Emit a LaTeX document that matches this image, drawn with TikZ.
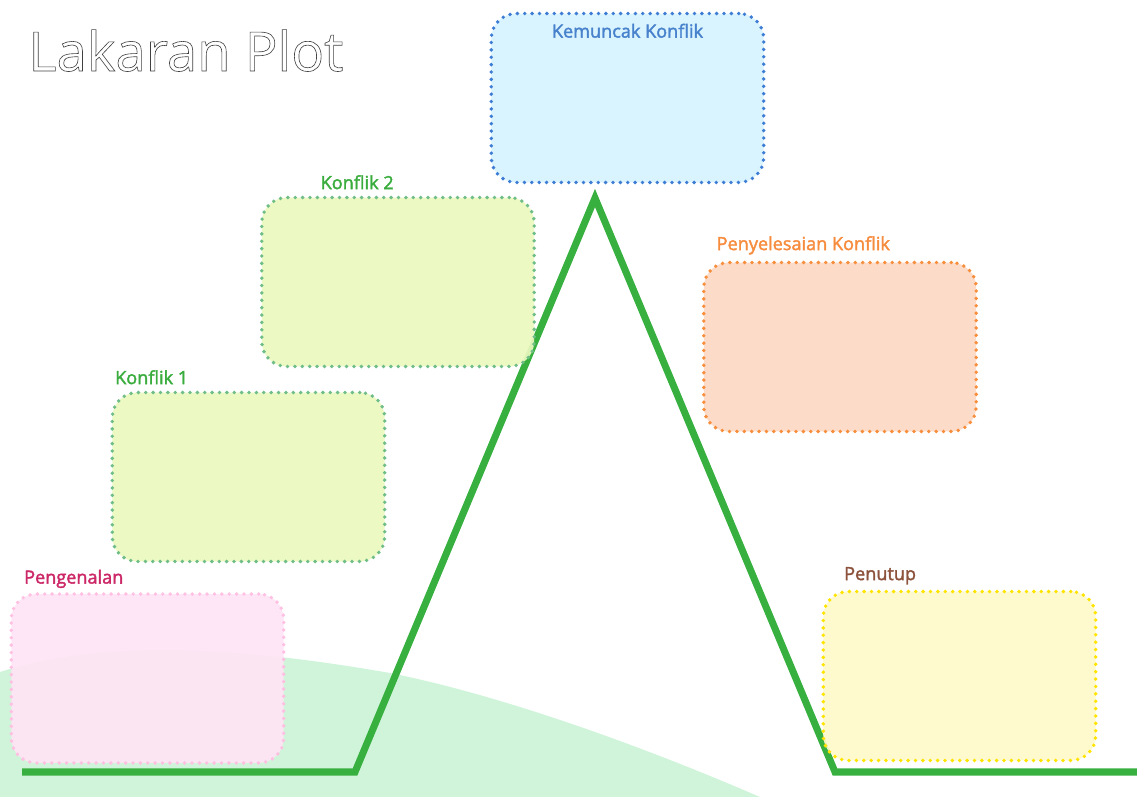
\documentclass[tikz,border=0pt]{standalone}
\usepackage{fontspec}
\setmainfont{Open Sans}
\newfontfamily\lblfont[FakeBold=2]{Open Sans}
\usepackage{xcolor}
\usepackage{tikz}
\usetikzlibrary{positioning}

\definecolor{plotgreen}{RGB}{56,176,64}
\definecolor{hillgreen}{RGB}{208,244,218}
\definecolor{kmtext}{RGB}{72,130,204}
\definecolor{kmdraw}{RGB}{62,125,212}
\definecolor{kmfill}{RGB}{214,243,255}
\definecolor{kftext}{RGB}{58,172,62}
\definecolor{kfdraw}{RGB}{112,190,135}
\definecolor{kffill}{RGB}{234,248,190}
\definecolor{pgtext}{RGB}{204,40,104}
\definecolor{pgdraw}{RGB}{255,192,226}
\definecolor{pgfill}{RGB}{255,228,246}
\definecolor{pytext}{RGB}{246,140,62}
\definecolor{pydraw}{RGB}{246,142,60}
\definecolor{pyfill}{RGB}{253,216,196}
\definecolor{pttext}{RGB}{140,82,60}
\definecolor{ptdraw}{RGB}{255,228,0}
\definecolor{ptfill}{RGB}{255,248,202}

\begin{document}
\begin{tikzpicture}
    [x=0.02cm, y=-0.02cm,
      % Stil für die Kästen
      box/.style={rectangle, rounded corners=0.5cm, minimum width=5.45cm, minimum height=3.38cm,
        line width=2.2pt, dash pattern=on 0pt off 4.2pt, line cap=round, fill opacity=0.92},
      km/.style={box, fill=kmfill, draw=kmdraw},
      kf/.style={box, fill=kffill, draw=kfdraw},
      pg/.style={box, fill=pgfill, draw=pgdraw},
      py/.style={box, fill=pyfill, draw=pydraw},
      pt/.style={box, fill=ptfill, draw=ptdraw},
      % Stil für Beschriftungen
      lbl/.style={inner sep=0pt, anchor=base west, font=\lblfont\fontsize{10.3}{12}\selectfont},
      % Stil für die Linie
      plotline/.style={line width=4pt, draw=plotgreen}]
    \useasboundingbox (0,0) rectangle (1137,797);

    % Hügel
    \fill[hillgreen] (0,797) -- (0,672) .. controls (100,640) and (230,645) .. (390,673)
      .. controls (500,695) and (640,745) .. (760,797) -- cycle;

    % Titel
    \node[inner sep=0pt, anchor=base west, font=\fontsize{31}{36}\selectfont] (title) at (28,71)
      {\special{pdf:literal direct 1 Tr 0.35 w 0.25 0.25 0.25 RG}Lakaran Plot\special{pdf:literal direct 0 Tr}};

    % Linie
    \coordinate (start) at (22,772);
    \coordinate (rise) at (355,772);
    \coordinate (peak) at (595,198);
    \coordinate (fall) at (835,772);
    \coordinate (end) at (1137,772);
    \draw[plotline] (start) -- (rise) -- (peak) -- (fall) -- (end);

    % Knoten
    \node[km] (kemuncak) at (627.5,98) {};
    \node[kf] (konflik2) at (398,282) {};
    \node[kf] (konflik1) at (248.5,477) {};
    \node[pg] (pengenalan) at (147.5,678.5) {};
    \node[py] (penyelesaian) at (840,347) {};
    \node[pt] (penutup) at (959.5,676) {};

    % Beschriftungen
    \node[lbl, anchor=base, text=kmtext] (kemuncaklbl) at ([shift={(0,26)}]kemuncak.north) {Kemuncak Konflik};
    \node[lbl, text=kftext] (konflik2lbl) at ([shift={(60.5,-6.5)}]konflik2.north west) {Konflik 2};
    \node[lbl, text=kftext] (konflik1lbl) at ([shift={(4.5,-6.5)}]konflik1.north west) {Konflik 1};
    \node[lbl, text=pgtext] (pengenalanlbl) at ([shift={(14.5,-8.5)}]pengenalan.north west) {Pengenalan};
    \node[lbl, text=pytext] (penyelesaianlbl) at ([shift={(14.5,-10.5)}]penyelesaian.north west) {Penyelesaian Konflik};
    \node[lbl, text=pttext] (penutuplbl) at ([shift={(22.5,-9.5)}]penutup.north west) {Penutup};

  \end{tikzpicture}
\end{document}
